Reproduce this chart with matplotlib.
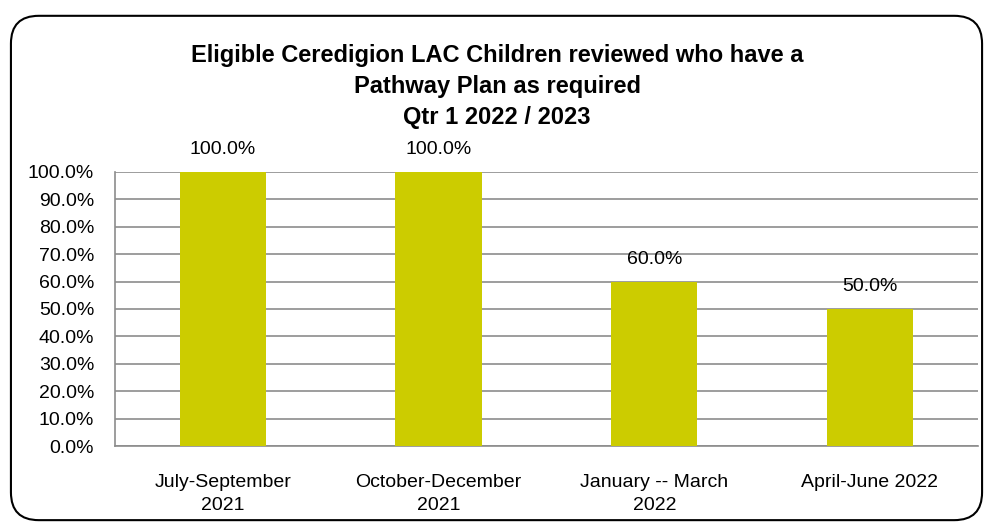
import matplotlib
matplotlib.use('Agg')
import matplotlib.pyplot as plt
from matplotlib.patches import FancyBboxPatch
from matplotlib.ticker import FuncFormatter, MultipleLocator

# Data
quarters = ['July-September\n2021', 'October-December\n2021', 'January -- March\n2022', 'April-June 2022']
pct_values = [100.0, 100.0, 60.0, 50.0]

plt.rcParams['font.family'] = ['Liberation Sans Narrow', 'Liberation Sans', 'DejaVu Sans']

fig = plt.figure(figsize=(9.94, 5.27), dpi=100)

# Rounded outer frame
frame = FancyBboxPatch((0.011, 0.013), 0.977, 0.957, boxstyle='round,pad=0,rounding_size=0.028',
                       transform=fig.transFigure, fill=False, edgecolor='black', linewidth=1.5,
                       mutation_aspect=994/527)
fig.patches.append(frame)

ax = fig.add_axes([0.1157, 0.1537, 0.868, 0.52])
x = range(len(quarters))
bars = ax.bar(x, pct_values, width=0.4, color='#CCCC00', zorder=3)

for b, v in zip(bars, pct_values):
    ax.text(b.get_x() + b.get_width()/2, v + 5, f'{v:.1f}%', ha='center', va='bottom', fontsize=14)

ax.set_xlim(-0.5, len(quarters) - 0.5)
ax.set_ylim(0, 100)
ax.yaxis.set_major_locator(MultipleLocator(10))
ax.yaxis.set_major_formatter(FuncFormatter(lambda v, p: f'{v:.1f}%'))
ax.set_xticks(list(x))
ax.set_xticklabels(quarters, fontsize=14, linespacing=1.5)
ax.tick_params(axis='y', labelsize=14, length=0, pad=15)
ax.tick_params(axis='x', length=0, pad=20)
ax.grid(axis='y', color='#8c8c8c', linewidth=1.2, zorder=0)
ax.set_axisbelow(True)
for s in ['top', 'right']:
    ax.spines[s].set_visible(False)
for s in ['left', 'bottom']:
    ax.spines[s].set_color('#8c8c8c')
    ax.spines[s].set_linewidth(1.2)

fig.text(0.5, 0.836, 'Eligible Ceredigion LAC Children reviewed who have a\nPathway Plan as required\nQtr 1 2022 / 2023',
         ha='center', va='center', fontsize=17, fontweight='bold', linespacing=1.45)

fig.savefig('out.png', dpi=100)
